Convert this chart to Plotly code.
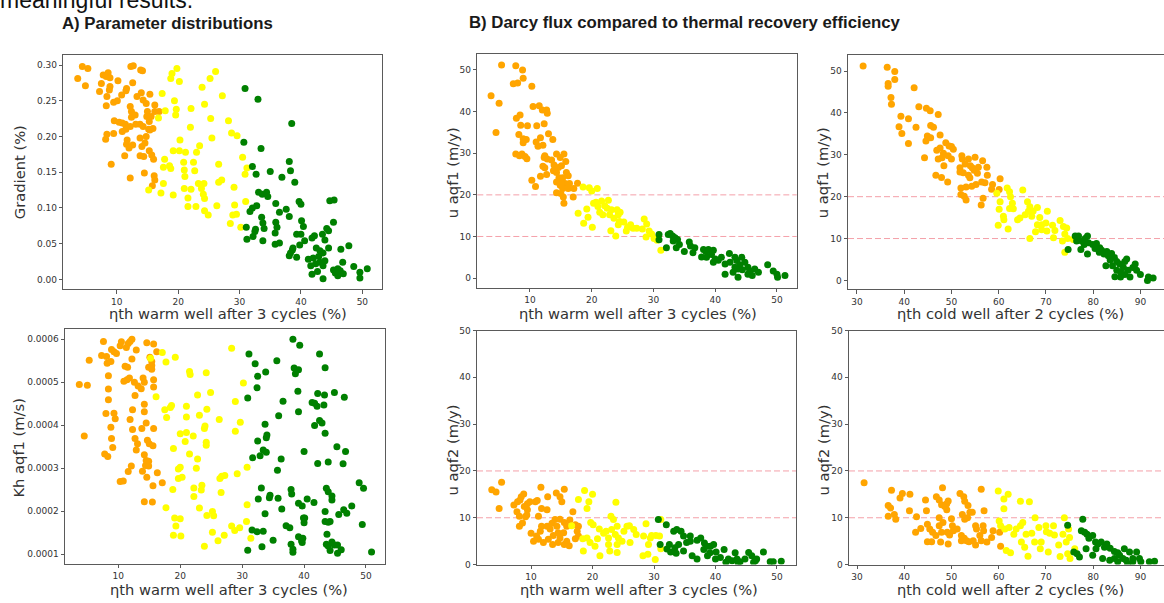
import plotly.graph_objects as go

W, H = 1164, 603
ORANGE = "#FFA500"
YELLOW = "#FFFF00"
GREEN = "#008000"

# ---------------- data (x, y) ----------------
# A1: eta_th warm well after 3 cycles (%) vs Gradient (%)
A1_orange = [(3.65,0.281),(4.4,0.298),(5.3,0.295),(4.9,0.271),(7.2,0.263),(7.5,0.274),(7.8,0.286),(8.3,0.284),
 (8.6,0.289),(8.9,0.282),(8.9,0.270),(8.8,0.265),(8.4,0.256),(8.3,0.243),(9.5,0.248),(10.1,0.250),(10.2,0.278),
 (10.8,0.258),(11.5,0.264),(11.6,0.267),(12.3,0.298),(12.7,0.299),(12.6,0.275),(13.9,0.293),(14.2,0.292),
 (13.3,0.256),(14.0,0.261),(14.3,0.251),(14.8,0.246),(15.4,0.259),(16.2,0.244),(16.9,0.235),(16.2,0.235),
 (15.0,0.235),(14.9,0.228),(15.3,0.221),(15.6,0.228),(15.9,0.211),(15.4,0.209),(13.8,0.217),(14.3,0.214),
 (13.1,0.217),(12.4,0.227),(12.2,0.242),(12.4,0.235),(13.0,0.230),(10.9,0.219),(11.4,0.217),(10.4,0.220),
 (9.6,0.222),(9.5,0.204),(8.4,0.203),(8.2,0.196),(10.9,0.207),(11.5,0.210),(12.2,0.214),(11.7,0.195),
 (11.6,0.189),(12.6,0.188),(12.0,0.184),(11.3,0.173),(13.8,0.198),(14.8,0.200),(14.6,0.191),(14.1,0.186),
 (13.8,0.173),(14.4,0.172),(15.3,0.180),(15.7,0.174),(16.0,0.168),(12.2,0.142),(14.5,0.149),(9.1,0.161),
 (16.1,0.145),(15.8,0.131),(16.2,0.139),(15.2,0.210)]
A1_yellow = [(15.2,0.125),(16.8,0.226),(17.4,0.260),(17.9,0.236),(17.8,0.168),(17.6,0.157),(17.6,0.134),
 (17.2,0.121),(18.6,0.159),(18.8,0.155),(19.0,0.288),(18.8,0.281),(19.8,0.295),(20.2,0.277),(19.4,0.250),
 (19.7,0.238),(19.6,0.230),(19.2,0.180),(20.2,0.180),(20.3,0.195),(20.9,0.164),(21.0,0.153),(21.1,0.144),
 (21.0,0.127),(21.6,0.114),(21.6,0.102),(19.2,0.118),(21.2,0.178),(22.0,0.213),(22.1,0.239),(22.5,0.164),
 (22.7,0.152),(22.1,0.126),(22.9,0.102),(23.0,0.178),(23.5,0.187),(23.3,0.134),(23.8,0.127),(24.2,0.134),
 (24.1,0.119),(24.3,0.113),(24.3,0.096),(24.9,0.090),(23.9,0.269),(24.3,0.245),(25.2,0.281),(26.1,0.291),
 (25.3,0.225),(25.5,0.198),(26.6,0.161),(26.6,0.136),(27.1,0.139),(26.3,0.103),(27.2,0.257),(28.2,0.222),
 (28.7,0.205),(29.6,0.201),(29.1,0.129),(29.2,0.104),(29.5,0.091),(28.9,0.090),(28.5,0.078),(30.5,0.171),
 (30.9,0.147),(31.2,0.156),(31.0,0.109),(30.2,0.073)]
A1_green = [(30.9,0.267),(33.0,0.252),(38.5,0.218),(30.7,0.192),(33.5,0.183),(32.1,0.158),(32.7,0.147),
 (35.0,0.151),(36.9,0.143),(39.0,0.136),(38.1,0.165),(38.3,0.152),(33.1,0.122),(33.7,0.119),(34.4,0.122),
 (34.6,0.116),(35.9,0.106),(36.5,0.094),(37.6,0.098),(39.7,0.109),(40.0,0.105),(38.1,0.088),(31.7,0.095),
 (32.1,0.100),(32.8,0.103),(33.6,0.087),(33.8,0.079),(34.0,0.071),(31.1,0.073),(32.6,0.070),(32.5,0.067),
 (31.2,0.056),(32.2,0.060),(33.8,0.054),(35.9,0.080),(36.1,0.073),(35.8,0.065),(36.5,0.051),(35.8,0.049),
 (40.1,0.082),(40.4,0.074),(39.3,0.063),(40.0,0.063),(40.6,0.054),(39.8,0.048),(38.6,0.041),(38.3,0.037),
 (38.7,0.044),(39.3,0.031),(38.1,0.033),(41.8,0.058),(42.2,0.061),(43.5,0.063),(43.9,0.055),(44.2,0.071),
 (44.5,0.068),(44.5,0.044),(42.5,0.044),(43.1,0.040),(43.6,0.037),(42.9,0.032),(41.2,0.028),(42.0,0.030),
 (41.6,0.019),(42.4,0.022),(41.8,0.007),(42.7,0.011),(43.6,0.001),(43.9,0.026),(43.6,0.019),(43.1,0.024),
 (45.3,0.013),(45.6,0.009),(46.0,0.015),(46.4,0.012),(46.8,0.024),(46.5,0.042),(47.8,0.047),(45.3,0.080),
 (44.7,0.110),(45.4,0.111),(46.9,0.008),(46.0,0.005),(48.6,0.018),(49.6,0.010),(49.6,0.002),(50.8,0.015)]

# A2: eta_th warm well after 3 cycles (%) vs Kh aqf1 (m/s)
A2_orange = [(3.7,4.95e-4),(5.0,4.93e-4),(4.5,3.75e-4),(5.3,5.51e-4),(7.6,5.95e-4),(7.3,5.62e-4),(8.1,5.60e-4),
 (8.2,5.44e-4),(8.8,5.48e-4),(8.9,5.76e-4),(9.3,5.71e-4),(9.7,5.67e-4),(10.3,5.85e-4),(10.5,5.94e-4),
 (11.3,5.81e-4),(11.9,5.95e-4),(12.2,6.00e-4),(11.6,5.90e-4),(12.9,5.75e-4),(12.2,5.54e-4),(11.1,5.37e-4),
 (11.5,5.35e-4),(10.9,5.02e-4),(11.4,5.06e-4),(11.8,5.10e-4),(12.6,5.00e-4),(13.2,4.91e-4),(13.7,4.85e-4),
 (14.0,5.10e-4),(14.2,5.00e-4),(12.7,4.69e-4),(14.2,4.49e-4),(14.9,5.35e-4),(15.1,5.58e-4),(15.4,5.48e-4),
 (15.4,5.39e-4),(15.4,5.30e-4),(15.7,5.06e-4),(15.7,4.89e-4),(16.2,5.71e-4),(14.6,5.92e-4),(15.7,5.89e-4),
 (8.4,5.15e-4),(8.4,4.84e-4),(8.4,4.59e-4),(8.0,4.27e-4),(9.3,4.28e-4),(9.5,4.15e-4),(8.8,3.95e-4),
 (8.9,3.69e-4),(9.1,3.48e-4),(7.8,3.33e-4),(8.3,3.27e-4),(12.3,4.36e-4),(11.9,4.13e-4),(12.3,3.90e-4),
 (12.7,3.69e-4),(13.1,3.57e-4),(13.8,3.92e-4),(14.2,4.31e-4),(14.5,4.05e-4),(14.7,3.65e-4),(15.0,3.57e-4),
 (15.6,3.52e-4),(15.7,3.92e-4),(12.9,3.42e-4),(14.2,3.31e-4),(14.5,3.18e-4),(14.9,3.16e-4),(14.4,3.06e-4),
 (14.9,3.05e-4),(13.9,2.93e-4),(14.6,2.79e-4),(16.3,2.89e-4),(15.6,2.59e-4),(17.1,2.66e-4),(11.6,2.92e-4),
 (12.1,3.05e-4),(10.3,2.69e-4),(10.8,2.70e-4),(14.2,2.22e-4),(15.5,2.21e-4)]
A2_yellow = [(15.2,5.56e-4),(17.1,5.69e-4),(17.7,5.47e-4),(19.2,5.58e-4),(16.1,4.66e-4),(17.5,4.36e-4),
 (17.8,4.18e-4),(18.4,4.41e-4),(18.6,4.46e-4),(18.9,3.46e-4),(17.7,2.08e-4),(18.8,2.50e-4),(19.1,1.84e-4),
 (19.3,1.65e-4),(18.9,1.44e-4),(20.0,1.82e-4),(20.1,1.42e-4),(19.7,2.98e-4),(20.0,3.02e-4),(19.7,2.76e-4),
 (20.3,2.79e-4),(20.0,3.80e-4),(20.8,3.62e-4),(21.0,4.44e-4),(21.0,4.19e-4),(21.0,3.83e-4),(21.5,3.33e-4),
 (21.5,5.25e-4),(21.6,5.18e-4),(22.1,3.75e-4),(22.2,2.54e-4),(22.2,2.34e-4),(22.6,3.00e-4),(22.8,3.21e-4),
 (22.8,4.70e-4),(23.1,4.23e-4),(23.1,2.07e-4),(23.5,2.60e-4),(23.4,2.49e-4),(23.9,3.92e-4),(24.0,3.98e-4),
 (23.9,1.18e-4),(24.2,5.22e-4),(24.3,4.37e-4),(24.2,3.60e-4),(24.2,3.53e-4),(24.3,1.90e-4),(24.9,4.76e-4),
 (25.2,1.99e-4),(25.4,1.89e-4),(25.2,1.51e-4),(26.1,1.31e-4),(26.3,4.13e-4),(26.4,2.76e-4),(26.7,2.81e-4),
 (26.6,2.43e-4),(27.1,1.44e-4),(27.2,2.83e-4),(28.3,5.79e-4),(28.3,1.65e-4),(28.8,1.55e-4),(28.9,4.55e-4),
 (28.9,3.86e-4),(29.2,2.87e-4),(29.6,1.61e-4),(29.7,4.07e-4),(30.2,4.98e-4),(30.8,3.02e-4),(30.8,2.15e-4),
 (30.7,1.76e-4),(31.4,1.37e-4)]
A2_green = [(31.1,5.66e-4),(30.9,4.63e-4),(32.1,5.43e-4),(32.5,5.14e-4),(32.4,4.87e-4),(33.8,5.24e-4),
 (35.6,5.50e-4),(38.2,6.00e-4),(39.3,5.86e-4),(38.4,5.33e-4),(38.6,5.20e-4),(39.1,5.29e-4),(42.5,5.66e-4),
 (43.4,5.34e-4),(39.0,4.79e-4),(42.2,4.74e-4),(43.3,4.70e-4),(44.9,4.76e-4),(46.5,4.65e-4),(36.6,4.56e-4),
 (39.1,4.31e-4),(41.3,4.53e-4),(41.7,4.51e-4),(42.1,4.44e-4),(43.2,4.47e-4),(35.9,4.22e-4),(33.7,4.02e-4),
 (41.7,3.99e-4),(42.5,4.11e-4),(42.9,4.05e-4),(43.4,3.81e-4),(34.0,3.77e-4),(33.9,3.71e-4),(32.5,3.63e-4),
 (33.4,3.42e-4),(33.9,3.37e-4),(32.9,3.29e-4),(31.7,3.24e-4),(36.3,3.21e-4),(35.7,2.95e-4),(40.0,3.39e-4),
 (42.2,3.11e-4),(43.9,3.14e-4),(45.3,3.50e-4),(46.7,3.39e-4),(46.3,3.10e-4),(48.9,2.66e-4),(49.6,2.53e-4),
 (49.4,1.69e-4),(50.9,1.05e-4),(47.7,2.12e-4),(46.4,2.03e-4),(46.9,1.95e-4),(45.6,1.92e-4),(33.1,2.54e-4),
 (32.6,2.28e-4),(34.5,2.37e-4),(34.4,2.31e-4),(35.8,2.30e-4),(36.4,2.05e-4),(37.9,2.50e-4),(38.0,2.40e-4),
 (39.1,2.18e-4),(39.7,2.12e-4),(40.5,2.28e-4),(41.6,2.20e-4),(33.7,1.94e-4),(37.1,1.66e-4),(37.7,1.61e-4),
 (32.4,1.52e-4),(33.4,1.53e-4),(35.0,1.32e-4),(31.6,1.56e-4),(30.9,1.09e-4),(33.2,1.17e-4),(39.1,1.40e-4),
 (39.6,1.31e-4),(39.8,1.37e-4),(39.7,1.27e-4),(39.9,1.84e-4),(40.0,1.73e-4),(40.1,1.84e-4),(37.9,1.23e-4),
 (38.2,1.11e-4),(38.2,1.04e-4),(43.6,2.53e-4),(43.9,2.45e-4),(44.5,2.35e-4),(44.5,2.26e-4),(43.4,1.99e-4),
 (43.4,1.76e-4),(43.9,1.74e-4),(44.2,1.76e-4),(43.7,1.46e-4),(43.6,1.23e-4),(43.9,1.19e-4),(44.5,1.28e-4),
 (44.2,1.08e-4),(44.9,1.21e-4),(45.4,1.21e-4),(46.0,1.10e-4),(45.4,1.02e-4)]

# B1: eta_th warm well after 3 cycles (%) vs u aqf1 (m/y)
B1_orange = [(3.7,43.8),(5.0,42.0),(4.5,35.0),(5.4,51.2),(7.7,51.0),(7.3,46.7),(8.0,46.9),(8.8,50.0),(8.9,48.0),
 (10.3,46.1),(7.8,38.4),(8.4,39.2),(8.5,36.7),(9.6,36.6),(8.2,34.5),(8.9,33.5),(9.4,33.3),(8.9,32.5),
 (7.7,29.8),(8.3,29.4),(8.7,29.8),(9.2,29.2),(9.5,28.7),(10.5,41.2),(11.5,41.4),(12.0,40.4),(12.7,40.4),
 (12.8,39.6),(11.1,36.6),(12.3,37.1),(13.0,34.7),(13.7,33.3),(11.7,33.7),(11.3,31.7),(12.1,31.9),(11.0,32.7),
 (12.4,29.4),(12.8,28.6),(12.3,29.0),(13.5,28.4),(14.3,29.8),(14.9,29.0),(15.5,29.8),(15.8,28.0),(15.1,27.0),
 (13.9,27.2),(13.8,25.8),(14.3,25.4),(12.1,26.9),(12.4,26.5),(12.7,24.9),(11.7,24.5),(10.3,23.5),(10.9,22.0),
 (14.7,24.1),(15.3,24.1),(15.9,25.4),(16.2,24.6),(14.3,23.1),(14.9,22.3),(15.7,22.7),(16.4,22.7),(15.3,21.5),
 (16.2,21.5),(17.1,21.5),(17.0,19.5),(17.7,22.8),(14.3,20.5),(15.0,20.3),(15.4,19.5),(15.5,18.0),(15.1,22.8),
 (14.6,26.6)]
B1_yellow = [(17.8,15.6),(18.7,13.2),(19.2,16.6),(19.4,14.6),(20.1,12.2),(18.6,21.9),(19.6,21.7),(20.0,20.9),
 (20.9,21.5),(20.3,18.0),(20.7,18.2),(21.0,17.2),(21.6,18.5),(22.1,17.4),(22.5,16.8),(21.3,15.8),(21.8,15.2),
 (22.9,15.2),(23.2,16.4),(24.1,16.4),(24.3,15.2),(23.6,14.4),(24.5,13.6),(25.2,13.5),(24.3,12.8),(23.1,11.4),
 (23.9,10.1),(25.8,12.2),(26.3,12.8),(26.7,12.0),(27.3,12.0),(25.6,11.3),(28.5,14.2),(28.9,13.0),(28.2,11.8),
 (29.3,11.3),(29.7,10.6),(28.8,9.9),(30.1,9.5),(30.6,9.1),(31.2,6.7),(22.7,18.7),(24.6,15.8)]
B1_green = [(30.9,10.5),(30.9,9.2),(32.1,7.3),(32.4,10.5),(32.7,10.7),(33.1,10.1),(33.5,9.7),(33.9,9.3),
 (33.2,8.9),(34.2,8.1),(33.7,7.3),(35.0,6.4),(35.8,8.7),(36.0,7.7),(36.7,7.3),(36.4,6.1),(38.1,6.9),(38.5,6.4),
 (38.9,6.9),(39.7,6.7),(37.8,5.1),(38.6,5.0),(39.4,5.7),(40.0,4.6),(39.7,3.8),(40.5,4.3),(41.0,5.0),(42.3,5.9),
 (41.6,3.4),(42.4,3.8),(43.2,5.0),(43.5,4.2),(44.3,5.0),(44.8,3.8),(44.0,3.2),(43.2,2.6),(43.7,2.2),(44.4,2.0),
 (45.3,2.6),(45.6,1.7),(46.4,2.2),(47.0,1.4),(46.0,0.6),(45.3,0.9),(43.7,0.2),(41.6,0.9),(48.5,3.2),(49.4,1.7),
 (50.0,0.9),(50.1,0.2),(51.3,0.6),(42.9,1.4)]

# B2: eta_th cold well after 2 cycles (%) vs u aqf1 (m/y)
B2_orange = [(31.3,51.2),(36.4,50.9),(38.0,49.9),(36.6,47.0),(36.6,46.4),(38.0,48.0),(37.2,43.7),(37.3,42.1),
 (42.1,46.0),(39.3,39.2),(38.9,36.7),(39.5,35.1),(40.9,38.6),(42.5,36.6),(40.9,32.7),(43.1,41.5),(44.7,41.1),
 (45.5,40.5),(47.2,39.6),(45.6,37.0),(46.2,36.6),(44.9,34.5),(45.6,34.1),(44.6,33.3),(47.6,34.7),(44.3,29.3),
 (46.7,25.1),(47.9,24.6),(49.2,23.5),(48.4,27.4),(46.9,31.1),(47.6,31.6),(48.8,32.9),(49.5,32.1),(50.0,32.0),
 (48.3,30.4),(49.3,29.8),(50.0,29.0),(47.2,29.0),(48.0,29.3),(50.4,31.3),(52.2,29.8),(52.3,29.0),(51.8,26.9),
 (51.8,25.9),(52.5,25.7),(52.9,27.8),(53.6,29.0),(55.0,29.4),(54.0,27.4),(54.4,26.9),(54.8,26.3),(55.5,25.6),
 (55.7,27.0),(56.6,28.6),(57.5,27.0),(57.6,25.1),(53.9,24.5),(53.6,25.1),(56.4,23.5),(57.1,23.3),(55.2,22.9),
 (54.3,22.5),(53.1,22.3),(52.0,22.1),(52.0,20.5),(52.7,20.1),(53.1,19.2),(56.7,19.6),(56.3,18.0),(58.7,22.9),
 (58.5,21.8),(60.3,24.3),(60.1,21.7)]
B2_yellow = [(59.6,20.8),(60.3,18.8),(60.1,17.0),(59.9,13.2),(61.0,15.3),(61.1,14.5),(61.8,22.1),(62.3,21.2),
 (62.5,20.0),(62.9,18.4),(62.3,17.2),(63.1,17.1),(62.0,12.3),(65.1,21.6),(64.5,14.9),(64.0,14.5),(66.1,18.8),
 (66.6,17.6),(67.3,16.6),(66.3,16.5),(65.6,15.7),(67.0,15.3),(68.2,17.4),(68.7,15.0),(70.3,16.5),(68.2,13.3),
 (69.1,13.3),(70.0,13.7),(67.8,11.6),(66.6,10.0),(69.1,12.1),(70.2,11.8),(71.4,13.2),(71.9,11.9),(71.6,10.2),
 (73.0,14.3),(73.7,12.9),(74.4,12.5),(74.0,11.1),(74.6,10.0),(73.5,9.4),(74.0,6.7),(75.8,9.8)]
B2_green = [(74.7,7.4),(76.2,10.6),(76.9,10.6),(76.5,9.4),(77.6,9.4),(78.3,10.0),(78.8,10.6),(78.1,8.6),
 (79.0,9.0),(77.4,7.4),(78.8,6.3),(79.9,8.6),(80.4,7.6),(80.7,8.8),(81.3,6.7),(81.8,7.2),(82.3,6.3),(82.9,6.9),
 (83.2,5.9),(83.9,6.4),(84.5,5.5),(83.6,4.9),(85.0,4.5),(82.7,3.5),(84.1,3.5),(85.6,3.9),(87.1,5.1),(86.4,3.1),
 (85.0,2.4),(85.8,2.0),(86.7,1.4),(87.4,2.4),(88.4,3.1),(88.9,3.9),(89.2,2.4),(90.0,1.4),(87.8,0.8),(85.8,0.8),
 (84.6,0.9),(91.7,0.8),(92.7,0.6),(91.5,0.0),(86.7,4.5),(81.4,7.8)]

# B3: eta_th warm well after 3 cycles (%) vs u aqf2 (m/y)
B3_orange = [(3.6,16.0),(4.3,15.5),(5.2,17.6),(4.8,12.0),(7.2,12.7),(7.8,13.4),(8.4,14.5),(8.8,15.1),(8.2,13.8),
 (7.7,11.3),(8.1,10.3),(8.1,8.2),(8.6,8.9),(9.1,10.2),(9.4,11.7),(9.4,13.0),(9.8,13.4),(10.7,13.4),(11.0,13.7),
 (8.9,12.4),(9.3,10.6),(11.2,10.3),(11.6,16.5),(11.7,12.0),(12.6,11.7),(12.7,14.5),(14.1,15.3),(14.7,14.5),
 (15.0,13.4),(15.4,16.1),(10.0,6.7),(10.4,5.0),(10.9,6.1),(11.5,7.1),(11.7,8.2),(12.6,8.2),(13.1,7.6),(13.4,8.8),
 (13.9,9.6),(14.2,8.2),(14.7,9.7),(15.4,9.0),(15.8,8.2),(16.3,9.5),(16.8,11.3),(17.2,8.5),(17.5,7.1),(17.7,6.1),
 (12.8,5.4),(13.6,6.2),(14.4,6.8),(14.7,5.7),(15.3,6.8),(15.8,5.0),(16.2,4.0),(15.4,4.3),(17.2,5.5),(12.0,4.7),
 (13.5,4.3),(11.2,5.4),(14.4,4.7),(17.7,8.2)]
B3_yellow = [(18.7,15.8),(20.0,15.0),(19.4,13.4),(19.1,12.0),(17.7,13.9),(23.8,13.3),(16.6,8.3),(19.7,9.0),
 (20.1,8.5),(18.4,5.5),(19.1,5.7),(19.6,4.7),(18.5,2.9),(20.4,3.9),(20.8,5.5),(21.1,7.6),(21.2,1.9),(21.8,6.7),
 (22.2,7.1),(22.6,5.7),(22.6,4.3),(23.0,10.3),(23.4,9.6),(24.0,8.2),(23.1,7.5),(23.7,6.4),(24.2,5.7),(24.8,5.0),
 (24.0,4.3),(22.8,2.9),(24.0,2.6),(25.1,7.1),(25.6,8.2),(26.0,8.3),(26.7,7.5),(26.1,4.7),(27.1,6.4),(28.3,6.1),
 (28.7,8.7),(29.1,4.3),(29.4,5.7),(28.2,1.9),(29.0,2.2),(29.6,6.2),(30.3,6.2),(30.9,6.1),(30.2,1.1),(31.1,3.4),
 (31.1,9.6)]
B3_green = [(30.7,9.6),(32.0,8.5),(31.0,4.3),(32.5,4.3),(32.1,3.3),(32.7,2.7),(33.4,3.6),(33.6,2.4),(33.2,7.1),
 (33.7,7.5),(34.4,7.1),(34.0,4.3),(34.8,6.1),(35.3,4.7),(35.9,5.0),(35.9,6.1),(37.0,5.2),(37.6,5.7),(38.2,4.6),
 (38.6,3.9),(38.1,3.2),(39.2,3.9),(39.7,4.3),(40.1,2.7),(38.7,1.9),(39.1,2.5),(40.0,1.2),(40.8,1.5),(41.4,3.2),
 (42.1,1.2),(42.7,0.8),(43.2,2.5),(43.5,1.2),(44.0,0.6),(44.8,1.2),(45.4,2.6),(45.9,1.9),(46.5,0.8),(46.7,1.2),
 (46.2,0.5),(47.8,2.7),(48.9,0.6),(49.4,0.6),(50.7,0.7),(36.2,1.9),(37.0,1.2),(34.8,2.9),(41.7,0.5),(43.7,0.4)]

# B4: eta_th cold well after 2 cycles (%) vs u aqf2 (m/y)
B4_orange = [(31.5,17.5),(37.3,15.9),(36.6,12.6),(37.1,12.1),(36.6,10.3),(37.9,10.7),(38.2,9.7),(39.1,14.2),
 (39.6,15.2),(41.2,15.0),(41.1,11.5),(42.6,10.2),(42.4,6.9),(43.5,7.7),(44.5,13.8),(44.7,11.5),(44.9,8.6),
 (44.9,4.9),(45.8,4.9),(45.4,7.6),(46.0,6.9),(46.7,6.2),(46.8,14.5),(47.4,13.8),(48.1,16.4),(47.9,12.8),
 (48.6,12.4),(49.0,13.0),(49.3,13.6),(49.0,11.7),(47.4,10.0),(48.2,9.0),(47.4,8.3),(47.9,6.9),(49.1,6.9),
 (50.0,9.8),(50.2,8.3),(50.4,7.2),(49.3,4.4),(49.6,6.3),(47.7,4.8),(51.8,15.2),(52.6,14.5),(52.8,13.5),
 (53.5,12.6),(52.3,10.7),(52.8,9.7),(53.4,10.0),(53.9,11.2),(54.4,11.2),(52.1,6.2),(52.7,5.6),(52.1,5.1),
 (53.2,5.1),(53.7,4.9),(55.1,8.3),(55.3,7.6),(56.0,6.2),(56.3,5.1),(55.1,4.2),(56.7,8.3),(56.8,7.2),(56.9,11.5),
 (56.3,16.1),(54.6,5.1),(57.5,4.8),(58.5,5.8),(58.8,7.2),(60.2,6.9),(60.4,3.9),(51.2,7.6)]
B4_yellow = [(59.9,15.7),(61.1,14.0),(62.0,15.0),(61.1,11.9),(60.1,9.3),(60.4,8.3),(61.3,7.6),(62.2,7.9),
 (61.6,3.0),(62.5,2.5),(63.2,6.5),(63.7,7.6),(64.6,13.5),(66.5,13.4),(64.6,8.3),(65.1,9.0),(65.8,6.5),(64.8,4.8),
 (66.2,1.8),(65.5,3.7),(67.0,6.7),(67.6,4.8),(67.7,10.0),(68.5,7.9),(69.0,4.8),(68.8,3.4),(70.0,8.3),(70.1,7.0),
 (70.5,2.7),(70.8,6.7),(71.6,8.3),(71.8,6.3),(72.7,4.2),(73.0,1.7),(73.6,6.5),(73.9,10.0),(74.3,4.8),(74.6,2.3),
 (75.0,5.8),(75.1,1.3),(76.1,3.4),(74.8,7.6)]
B4_green = [(74.6,8.4),(77.8,9.7),(75.9,2.7),(76.6,2.3),(77.1,1.6),(77.5,7.2),(78.2,6.9),(78.7,6.5),(79.1,5.6),
 (79.9,6.2),(80.5,4.8),(81.0,4.4),(81.7,4.8),(82.4,3.7),(82.9,4.4),(83.6,3.5),(84.5,2.8),(85.2,2.5),(85.6,2.0),
 (86.3,1.3),(87.0,0.9),(87.7,2.7),(88.4,0.6),(89.2,2.7),(89.8,1.3),(88.4,1.3),(86.6,3.4),(84.5,1.3),(83.5,0.9),
 (82.0,1.3),(79.9,2.0),(78.5,3.4),(80.6,3.4),(91.9,0.6),(93.0,0.7),(90.1,0.6),(85.2,0.6),(87.3,0.2)]

# tick values / labels
WARM_TICKS = [10, 20, 30, 40, 50]
COLD_TICKS = [30, 40, 50, 60, 70, 80, 90]
GRAD_TICKS = [0.00, 0.05, 0.10, 0.15, 0.20, 0.25, 0.30]
KH_TICKS = [0.0001, 0.0002, 0.0003, 0.0004, 0.0005, 0.0006]
U_TICKS = [0, 10, 20, 30, 40, 50]
THRESHOLDS = [10, 20]

XLAB_WARM = "ηth warm well after 3 cycles (%)"
XLAB_COLD = "ηth cold well after 2 cycles (%)"

# ---------------- layout geometry (pixels) ----------------
panels = [
    dict(box=(63.3, 50.7, 382.0, 289.0), xr=[1.3, 53.2], yr=[-0.0138, 0.3142], xt=WARM_TICKS, yt=GRAD_TICKS,
         ytf=".2f", data=(A1_orange, A1_yellow, A1_green), ylab="Gradient (%)", ylab_pos=(19, 170),
         xlab=XLAB_WARM, xlab_pos=(228, 314), lines=False, right=True),
    dict(box=(65.0, 329.0, 385.0, 568.0), xr=[1.39, 53.07], yr=[0.0000778, 0.000625], xt=WARM_TICKS, yt=KH_TICKS,
         ytf=".4f", data=(A2_orange, A2_yellow, A2_green), ylab="Kh aqf1 (m/s)", ylab_pos=(19, 450),
         xlab=XLAB_WARM, xlab_pos=(229, 594), lines=False, right=True),
    dict(box=(477.3, 50.0, 796.7, 287.7), xr=[1.47, 53.2], yr=[-2.36, 53.8], xt=WARM_TICKS, yt=U_TICKS,
         ytf="d", data=(B1_orange, B1_yellow, B1_green), ylab="u aqf1 (m/y)", ylab_pos=(452, 171),
         xlab=XLAB_WARM, xlab_pos=(638, 314), lines=True, right=True),
    dict(box=(848.0, 51.0, 1164.0, 289.0), xr=[28.1, 95.0], yr=[-2.1, 53.8], xt=COLD_TICKS, yt=U_TICKS,
         ytf="d", data=(B2_orange, B2_yellow, B2_green), ylab="u aqf1 (m/y)", ylab_pos=(822, 171),
         xlab=XLAB_COLD, xlab_pos=(1010, 314), lines=True, right=False),
    dict(box=(477.0, 331.0, 796.0, 569.0), xr=[1.2, 53.1], yr=[0, 50], xt=WARM_TICKS, yt=U_TICKS,
         ytf="d", data=(B3_orange, B3_yellow, B3_green), ylab="u aqf2 (m/y)", ylab_pos=(452, 453),
         xlab=XLAB_WARM, xlab_pos=(639, 594), lines=True, right=True),
    dict(box=(849.0, 331.0, 1164.0, 569.0), xr=[28.3, 95.0], yr=[0, 50], xt=COLD_TICKS, yt=U_TICKS,
         ytf="d", data=(B4_orange, B4_yellow, B4_green), ylab="u aqf2 (m/y)", ylab_pos=(823, 453),
         xlab=XLAB_COLD, xlab_pos=(1010, 594), lines=True, right=False),
]

TICK_FONT = dict(family="DejaVu Sans", size=9, color="#333333")
LAB_FONT = dict(family="DejaVu Sans", size=14.7, color="#333333")
FRAME = "#5a5a5a"

fig = go.Figure()
layout = dict(width=W, height=H, margin=dict(l=0, r=0, t=0, b=0), paper_bgcolor="white",
              plot_bgcolor="white", showlegend=False)
shapes = []
annotations = []

for i, p in enumerate(panels):
    n = "" if i == 0 else str(i + 1)
    xa, ya = "x" + n, "y" + n
    x0, y0, x1, y1 = p["box"]
    for pts, col in zip(p["data"], (ORANGE, YELLOW, GREEN)):
        fig.add_trace(go.Scatter(x=[q[0] for q in pts], y=[q[1] for q in pts], mode="markers",
                                 marker=dict(color=col, size=7, line=dict(width=0)),
                                 xaxis=xa, yaxis=ya, hoverinfo="x+y"))
    layout["xaxis" + n] = dict(domain=[x0 / W, min(x1 / W, 1.0)], range=p["xr"], anchor=ya,
                               tickvals=p["xt"], ticks="outside", ticklen=3.5, tickcolor=FRAME,
                               tickfont=TICK_FONT, showgrid=False, zeroline=False,
                               showline=True, linecolor=FRAME, linewidth=1, mirror=True, fixedrange=True)
    layout["yaxis" + n] = dict(domain=[1 - y1 / H, 1 - y0 / H], range=p["yr"], anchor=xa,
                               tickvals=p["yt"], tickformat=p["ytf"], ticks="outside", ticklen=3.5,
                               tickcolor=FRAME, tickfont=TICK_FONT, showgrid=False, zeroline=False,
                               showline=True, linecolor=FRAME, linewidth=1, mirror=p["right"],
                               fixedrange=True)
    if p["lines"]:
        for t in THRESHOLDS:
            shapes.append(dict(type="line", xref=xa + " domain", x0=0, x1=1, yref=ya, y0=t, y1=t,
                               line=dict(color="rgba(240,128,140,0.75)", width=1, dash="6px,3px"), layer="below"))
    lx, ly = p["ylab_pos"]
    annotations.append(dict(text=p["ylab"], xref="paper", yref="paper", x=lx / W, y=1 - ly / H,
                            xanchor="center", yanchor="middle", textangle=-90, showarrow=False, font=LAB_FONT))
    lx, ly = p["xlab_pos"]
    annotations.append(dict(text=p["xlab"], xref="paper", yref="paper", x=lx / W, y=1 - ly / H,
                            xanchor="center", yanchor="middle", showarrow=False, font=LAB_FONT))

TITLE_FONT = dict(family="Liberation Sans, Arial", size=16.8, color="#1a1a1a")
annotations.append(dict(text="<b>A) Parameter distributions</b>", xref="paper", yref="paper",
                        x=60 / W, y=1 - 18.5 / H, xanchor="left", yanchor="middle", showarrow=False, font=TITLE_FONT))
annotations.append(dict(text="<b>B) Darcy flux compared to thermal recovery efficiency</b>", xref="paper",
                        yref="paper", x=467 / W, y=1 - 18 / H, xanchor="left", yanchor="middle", showarrow=False,
                        font=TITLE_FONT))
annotations.append(dict(text="meaningful results.", xref="paper", yref="paper", x=-2 / W, y=1 - 10 / H,
                        xanchor="left", yanchor="bottom", showarrow=False,
                        font=dict(family="Liberation Sans, Arial", size=23, color="#111111")))

layout["shapes"] = shapes
layout["annotations"] = annotations
fig.update_layout(**layout)
fig.write_html("out.html", config={"displayModeBar": False},
               post_script="document.body.style.margin='0';document.body.style.overflow='hidden';")
